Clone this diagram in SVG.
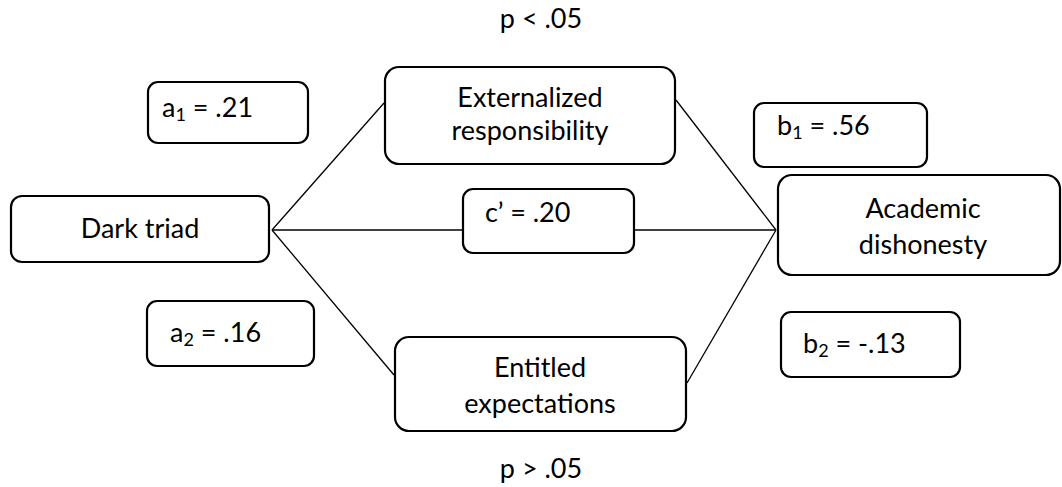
<svg xmlns="http://www.w3.org/2000/svg" width="1062" height="487" viewBox="0 0 1062 487">
<style>
.box{fill:#fff;stroke:#000;stroke-width:2.2}
.ln{stroke:#000;stroke-width:1.3;fill:none}
text{font-family:Lato,"Liberation Sans",sans-serif;font-size:27px;fill:#000}
.c{text-anchor:middle}
.sub{font-size:18px}
</style>
<rect width="1062" height="487" fill="#fff"/>
<g id="connectors">
<line class="ln" x1="272" y1="230" x2="384" y2="103"/>
<line class="ln" x1="272" y1="230" x2="394" y2="375"/>
<line class="ln" x1="272" y1="230" x2="463" y2="230"/>
<line class="ln" x1="634" y1="230" x2="776" y2="230"/>
<line class="ln" x1="676" y1="100" x2="776" y2="230"/>
<line class="ln" x1="687" y1="383" x2="776" y2="230"/>
</g>
<g id="dark-triad">
<rect class="box" x="11" y="196" width="258" height="66" rx="11"/>
<text class="c" x="140" y="238">Dark triad</text>
</g>
<g id="externalized">
<rect class="box" x="385" y="67" width="290" height="97" rx="14"/>
<text class="c" x="530" y="107">Externalized</text>
<text class="c" x="530" y="140">responsibility</text>
</g>
<g id="entitled">
<rect class="box" x="395" y="337" width="291" height="94" rx="14"/>
<text class="c" x="540" y="377">Entitled</text>
<text class="c" x="540" y="413">expectations</text>
</g>
<g id="academic">
<rect class="box" x="778" y="175" width="282" height="100" rx="14"/>
<text class="c" x="923" y="218">Academic</text>
<text class="c" x="923" y="254">dishonesty</text>
</g>
<g id="c-prime">
<rect class="box" x="463" y="189" width="171" height="64" rx="10"/>
<text x="485" y="222">c’ = .20</text>
</g>
<g id="a1">
<rect class="box" x="148" y="82" width="160" height="61" rx="10"/>
<text x="162" y="117">a<tspan class="sub" dy="4">1</tspan><tspan dy="-4"> = .21</tspan></text>
</g>
<g id="a2">
<rect class="box" x="147" y="301" width="167" height="65" rx="10"/>
<text x="170" y="342">a<tspan class="sub" dy="4">2</tspan><tspan dy="-4"> = .16</tspan></text>
</g>
<g id="b1">
<rect class="box" x="754" y="103" width="173" height="64" rx="10"/>
<text x="777" y="135">b<tspan class="sub" dy="4">1</tspan><tspan dy="-4"> = .56</tspan></text>
</g>
<g id="b2">
<rect class="box" x="781" y="312" width="179" height="65" rx="10"/>
<text x="803" y="353">b<tspan class="sub" dy="4">2</tspan><tspan dy="-4"> = -.13</tspan></text>
</g>
<g id="p-top">
<text class="c" x="541" y="28">p &lt; .05</text>
</g>
<g id="p-bottom">
<text class="c" x="541" y="478">p &gt; .05</text>
</g>
</svg>
